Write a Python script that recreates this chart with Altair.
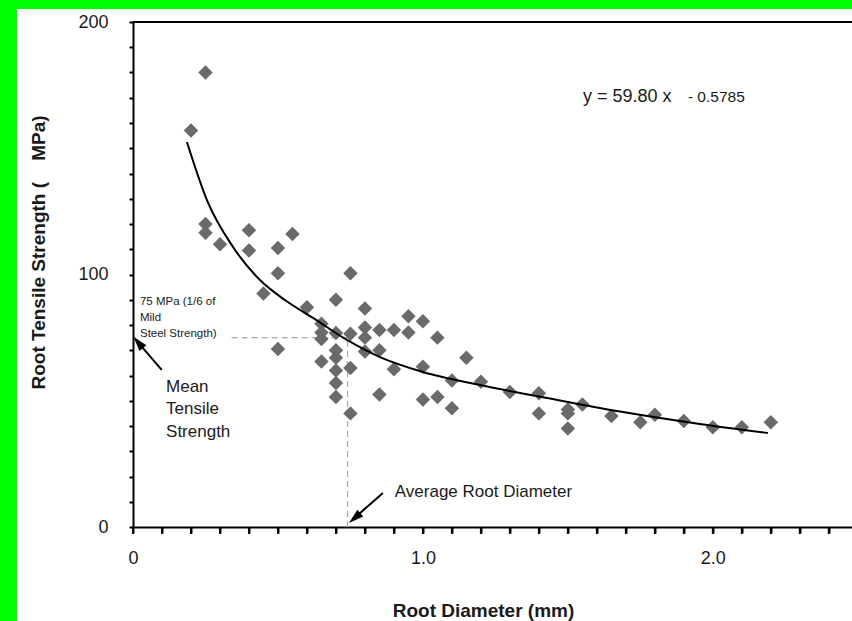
import altair as alt
import pandas as pd

# ---------------- data ----------------
diam = [0.20, 0.25, 0.25, 0.25, 0.30, 0.40, 0.40, 0.45, 0.50, 0.50, 0.50, 0.55,
        0.60, 0.65, 0.65, 0.65, 0.65, 0.70, 0.70, 0.70, 0.70, 0.70, 0.70, 0.70,
        0.75, 0.75, 0.75, 0.75, 0.80, 0.80, 0.80, 0.80, 0.85, 0.85, 0.85, 0.90,
        0.90, 0.95, 0.95, 1.00, 1.00, 1.00, 1.05, 1.05, 1.10, 1.10, 1.15, 1.20,
        1.30, 1.40, 1.40, 1.50, 1.50, 1.50, 1.55, 1.65, 1.75, 1.80, 1.90, 2.00,
        2.10, 2.20]
strength = [157, 180, 120, 116.5, 112, 117.5, 109.5, 92.5, 110.5, 100.5, 70.5, 116,
            87, 80.5, 77, 74.5, 65.5, 90, 76.8, 70, 67, 62, 57, 51.5,
            100.5, 76.5, 63, 45, 86.5, 79, 75, 69.5, 78, 70, 52.5, 78,
            62.5, 83.5, 77, 81.5, 63.5, 50.5, 75, 51.5, 58, 47, 67, 57.5,
            53.5, 53, 45, 46.5, 45, 39, 48.5, 44, 41.5, 44.5, 42, 39.5,
            39.5, 41.5]

# fitted power curve
curve_x = [0.186, 0.255, 0.345, 0.438, 0.524, 0.621, 0.738, 0.852, 1.0, 1.197,
           1.428, 1.61, 1.955, 2.19]
curve_y = [152.5, 129.5, 110.9, 97.8, 89.9, 82.8, 74.1, 67.3, 61.4, 56.2,
           51.1, 47.1, 40.8, 37.2]

# reference lines (mean strength 75 MPa, average diameter 0.74 mm)
mean_strength = 75
avg_diam = 0.74

X_MAX = 2.48
Y_MAX = 200
x_ticks = [i / 10 for i in range(0, 25)]
y_ticks = list(range(0, 201, 10))

# annotation texts (anchor in data units)
eq_main = "y = 59.80 x"
eq_exp = "- 0.5785"
note_steel = "75 MPa (1/6 of\nMild\nSteel Strength)"
note_mean = "Mean\nTensile\nStrength"
note_avg = "Average Root Diameter"
y_title = "Root Tensile Strength (\u00a0\u00a0\u00a0\u00a0MPa)"
x_title = "Root Diameter (mm)"

FONT = "Liberation Sans"
TXT = "#1a1a1a"
GREEN = "#00ff00"

pts = pd.DataFrame({"x": diam, "y": strength})
curve = pd.DataFrame({"x": curve_x, "y": curve_y})

X = alt.X("x:Q", scale=alt.Scale(domain=[0, X_MAX], nice=False, zero=False),
          axis=alt.Axis(values=x_ticks,
                        labelExpr="datum.value == 0 ? '0' : (abs(datum.value - round(datum.value)) < 0.001 ? format(datum.value, '.1f') : '')",
                        grid=False, tickSize=6, tickWidth=2, tickColor="black",
                        domainColor="black", domainWidth=2,
                        labelFont=FONT, labelFontSize=18, labelColor=TXT,
                        labelPadding=16, labelOverlap=False, labelFlush=False,
                        title=x_title, titleFont=FONT,
                        titleFontSize=19, titleFontWeight="bold", titleColor=TXT,
                        titleX=350, titleY=83, titleBaseline="middle",
                        titleAlign="center"))
Y = alt.Y("y:Q", scale=alt.Scale(domain=[0, Y_MAX], nice=False),
          axis=alt.Axis(values=y_ticks,
                        labelExpr="datum.value % 100 == 0 ? datum.label : ''",
                        grid=False, tickSize=4, tickWidth=2, tickColor="black",
                        domainColor="black", domainWidth=2,
                        labelFont=FONT, labelFontSize=18, labelColor=TXT,
                        labelPadding=21, labelOverlap=False, labelFlush=False,
                        title=y_title, titleFont=FONT,
                        titleFontSize=19, titleFontWeight="bold", titleColor=TXT,
                        titleAngle=270, titleX=-95, titleY=230,
                        titleBaseline="middle", titleAlign="center"))

# green page frame strips (decoration, outside the axes)
strip_top = alt.Chart(pd.DataFrame({"a": [0]})).mark_rect(color=GREEN).encode(
    x=alt.value(-133), x2=alt.value(719), y=alt.value(-22), y2=alt.value(-13))
strip_left = alt.Chart(pd.DataFrame({"a": [0]})).mark_rect(color=GREEN).encode(
    x=alt.value(-133), x2=alt.value(-116), y=alt.value(-22), y2=alt.value(599))

# minor x tick marks along the bottom axis (positions from the x scale)
xtick_marks = alt.Chart(pd.DataFrame({"x": x_ticks})).mark_rule(
    color="black", strokeWidth=2).encode(x=X, y=alt.value(505), y2=alt.value(512))

ref_h = alt.Chart(pd.DataFrame({"x": [0.34], "x2": [avg_diam], "y": [mean_strength]})).mark_rule(
    color="#a8a8a8", strokeDash=[6, 4], strokeWidth=1.2).encode(x=X, x2="x2:Q", y=Y)
ref_v = alt.Chart(pd.DataFrame({"x": [avg_diam], "y": [0], "y2": [mean_strength]})).mark_rule(
    color="#a8a8a8", strokeDash=[6, 4], strokeWidth=1.2).encode(x=X, y=Y, y2="y2:Q")

points = alt.Chart(pts).mark_point(shape="diamond", filled=True, size=210,
                                   color="#6a6a6a", opacity=1).encode(x=X, y=Y)

line = alt.Chart(curve).mark_line(color="black", strokeWidth=2,
                                  interpolate="monotone").encode(x=X, y=Y)

frame = alt.Chart(pd.DataFrame({"x": [0], "x2": [X_MAX], "y": [Y_MAX]})).mark_rule(
    color="black", strokeWidth=2).encode(x=X, x2="x2:Q", y=Y)


def label(txt, x, y, size, lh=None, weight="normal"):
    kw = dict(align="left", baseline="alphabetic", font=FONT, fontSize=size,
              color=TXT, fontWeight=weight, lineBreak="\n")
    if lh:
        kw["lineHeight"] = lh
    return alt.Chart(pd.DataFrame({"x": [x], "y": [y], "t": [txt]})).mark_text(**kw).encode(
        x=X, y=Y, text="t:N")


t1 = label(eq_main, 1.552, 168.3, 18)
t2 = label(eq_exp, 1.914, 168.3, 15.5)
t3 = label(note_steel, 0.024, 87.9, 11.5, lh=16)
t4 = label(note_mean, 0.114, 53.5, 17, lh=22.5)
t5 = label(note_avg, 0.903, 11.9, 17)

# arrows: shaft tail -> near tip, head at tip
shafts = pd.DataFrame({"x": [0.099, 0.862], "y": [62.2, 13.5],
                       "x2": [0.021, 0.770], "y2": [72.6, 4.2]})
shaft = alt.Chart(shafts).mark_rule(color="black", strokeWidth=2).encode(
    x=X, y=Y, x2="x2:Q", y2="y2:Q")
HEAD = "M0,0L0.6,2L-0.6,2Z"
head1 = alt.Chart(pd.DataFrame({"x": [0.001], "y": [75.4]})).mark_point(
    shape=HEAD, filled=True, size=225, color="black", opacity=1, angle=320).encode(x=X, y=Y)
head2 = alt.Chart(pd.DataFrame({"x": [0.745], "y": [1.6]})).mark_point(
    shape=HEAD, filled=True, size=225, color="black", opacity=1, angle=229).encode(x=X, y=Y)

chart = alt.layer(strip_top, strip_left, xtick_marks, ref_h, ref_v, points, line,
                  frame, t1, t2, t3, t4, t5, shaft, head1, head2).properties(
    width=719, height=505,
    padding={"left": 133, "top": 22, "right": 0, "bottom": 94},
    autosize=alt.AutoSizeParams(type="none"),
    background="white",
).configure_view(stroke=None)

chart.save("out.html", embed_options={"renderer": "svg", "actions": False})
